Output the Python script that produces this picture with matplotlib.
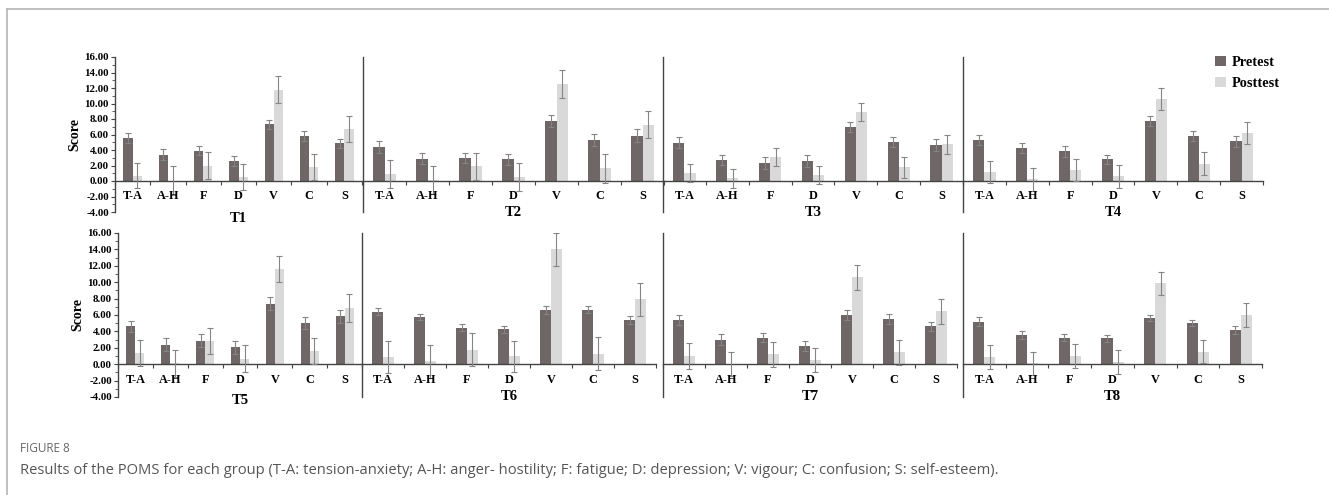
import numpy as np
import matplotlib.pyplot as plt
from matplotlib.patches import Patch
from matplotlib.lines import Line2D

# --- data ---
categories = ["T-A", "A-H", "F", "D", "V", "C", "S"]
groups = ["T1", "T2", "T3", "T4", "T5", "T6", "T7", "T8"]

pre_mean = [
    [5.55, 3.40, 3.90, 2.60, 7.30, 5.80, 4.85],
    [4.35, 2.90, 3.00, 2.80, 7.75, 5.30, 5.85],
    [4.95, 2.75, 2.30, 2.55, 7.00, 5.05, 4.65],
    [5.35, 4.20, 3.85, 2.80, 7.75, 5.80, 5.10],
    [4.60, 2.40, 2.85, 2.05, 7.40, 5.05, 5.85],
    [6.40, 5.75, 4.45, 4.25, 6.60, 6.65, 5.35],
    [5.40, 3.00, 3.20, 2.20, 6.00, 5.55, 4.60],
    [5.15, 3.55, 3.25, 3.15, 5.65, 5.00, 4.20],
]
pre_err = [
    [0.65, 0.70, 0.60, 0.65, 0.55, 0.70, 0.60],
    [0.75, 0.75, 0.65, 0.70, 0.75, 0.75, 0.80],
    [0.70, 0.65, 0.75, 0.75, 0.65, 0.65, 0.75],
    [0.65, 0.65, 0.70, 0.60, 0.65, 0.70, 0.70],
    [0.70, 0.75, 0.80, 0.75, 0.85, 0.70, 0.80],
    [0.40, 0.40, 0.45, 0.40, 0.45, 0.40, 0.50],
    [0.60, 0.65, 0.55, 0.65, 0.65, 0.60, 0.55],
    [0.55, 0.45, 0.40, 0.45, 0.40, 0.40, 0.50],
]
post_mean = [
    [0.70, 0.05, 2.00, 0.50, 11.80, 1.80, 6.70],
    [0.95, 0.15, 1.90, 0.50, 12.55, 1.65, 7.25],
    [1.05, 0.35, 3.05, 0.75, 8.95, 1.75, 4.75],
    [1.15, 0.20, 1.45, 0.60, 10.60, 2.25, 6.20],
    [1.35, 0.10, 2.85, 0.65, 11.65, 1.60, 6.85],
    [0.85, 0.35, 1.75, 0.95, 14.00, 1.30, 7.90],
    [1.00, 0.02, 1.20, 0.55, 10.60, 1.45, 6.45],
    [0.90, 0.10, 1.00, 0.30, 9.85, 1.50, 6.00],
]
post_err = [
    [1.60, 1.85, 1.80, 1.65, 1.75, 1.70, 1.70],
    [1.80, 1.85, 1.75, 1.80, 1.80, 1.85, 1.75],
    [1.20, 1.25, 1.15, 1.15, 1.15, 1.30, 1.25],
    [1.40, 1.50, 1.45, 1.45, 1.45, 1.45, 1.40],
    [1.60, 1.65, 1.60, 1.65, 1.60, 1.55, 1.65],
    [1.95, 2.05, 2.00, 1.85, 2.00, 2.00, 2.00],
    [1.55, 1.50, 1.50, 1.45, 1.55, 1.50, 1.50],
    [1.45, 1.40, 1.45, 1.45, 1.45, 1.40, 1.50],
]

PRE_COLOR = "#6e6667"
POST_COLOR = "#d9d9d9"
ERR_COLOR = "#858585"
SERIF = ["Liberation Serif", "DejaVu Serif"]
SANS = ["Open Sans", "DejaVu Sans"]

W, H = 1329, 495
fig = plt.figure(figsize=(W / 100, H / 100), dpi=100)

# axes boxes in pixels: (left, right) per panel, (top, bottom) per row
x_px = [(115, 362), (363, 664), (663, 963), (963, 1263),
        (118, 362), (362, 656), (663, 957), (963, 1262)]
row_px = [(57, 212), (233, 397)]
title_y = [-4.8, -4.1, -4.1, -4.1, -4.4, -4.0, -3.9, -4.0]

x = np.arange(len(categories))
bw = 0.26

for k, g in enumerate(groups):
    l, r = x_px[k]
    t, b = row_px[k // 4]
    ax = fig.add_axes([l / W, 1 - b / H, (r - l) / W, (b - t) / H])
    ax.set_facecolor("none")

    ax.bar(x - bw / 2, pre_mean[k], bw, color=PRE_COLOR, zorder=2)
    ax.bar(x + bw / 2, post_mean[k], bw, color=POST_COLOR, zorder=2)
    ax.errorbar(x - bw / 2, pre_mean[k], yerr=pre_err[k], fmt="none",
                ecolor=ERR_COLOR, elinewidth=0.8, capsize=2, capthick=0.8, zorder=3)
    ax.errorbar(x + bw / 2, post_mean[k], yerr=post_err[k], fmt="none",
                ecolor=ERR_COLOR, elinewidth=0.8, capsize=2, capthick=0.8, zorder=3)

    ax.set_xlim(-0.5, len(categories) - 0.5)
    ax.set_ylim(-4, 16)

    for s in ["top", "right"]:
        ax.spines[s].set_visible(False)
    ax.spines["bottom"].set_position(("data", 0))
    for s in ["bottom", "left"]:
        ax.spines[s].set_color("#444444")
        ax.spines[s].set_linewidth(1.0)

    ax.set_xticks(np.arange(-0.5, len(categories), 1.0))
    ax.tick_params(axis="x", direction="out", length=3, width=0.8,
                   color="#444444", labelbottom=False)

    if k % 4 == 0:
        ax.set_yticks(np.arange(-4, 17, 2))
        ax.set_yticks(np.arange(-4, 17, 1), minor=True)
        ax.set_yticklabels([f"{v:.2f}" for v in np.arange(-4, 17, 2)],
                           family=SERIF, fontweight="bold", fontsize=7.8)
        ax.tick_params(axis="y", which="major", length=3, width=0.8, pad=1.5,
                       color="#444444")
        ax.tick_params(axis="y", which="minor", length=2, width=0.6,
                       color="#444444")
        ax.set_ylabel("Score", family=SERIF, fontweight="bold", fontsize=10,
                      labelpad=2)
    else:
        ax.set_yticks([])

    for i, c in enumerate(categories):
        ax.text(i, -1.95, c, ha="center", va="center",
                family=SERIF, fontweight="bold", fontsize=8.8, clip_on=False)
    ax.text((len(categories) - 1) / 2, title_y[k], g, ha="center", va="center",
            family=SERIF, fontweight="bold", fontsize=10.5, clip_on=False)

# legend
handles = [Patch(facecolor=PRE_COLOR, label="Pretest"),
           Patch(facecolor=POST_COLOR, label="Posttest")]
fig.legend(handles=handles, loc="upper left",
           bbox_to_anchor=(1202 / W, 1 - 43 / H), frameon=False,
           handlelength=0.75, handleheight=0.75, handletextpad=0.45,
           labelspacing=0.55, prop={"family": SERIF, "weight": "bold", "size": 10.3})

# frame lines
fig.add_artist(Line2D([7 / W, 1.0], [1 - 9 / H, 1 - 9 / H], color="#b5b5b5", lw=1.2))
fig.add_artist(Line2D([7 / W, 7 / W], [1 - 9 / H, 0.0], color="#b5b5b5", lw=1.2))

# caption
fig.text(20 / W, 1 - 449 / H, "FIGURE 8", family=SANS,
         fontsize=8.5, color="#666666", va="center")
fig.text(20 / W, 1 - 471 / H,
         "Results of the POMS for each group (T-A: tension-anxiety; A-H: anger- hostility; "
         "F: fatigue; D: depression; V: vigour; C: confusion; S: self-esteem).",
         family=SANS, fontsize=10.6, color="#555555", va="center")

fig.savefig("out.png", dpi=100)
